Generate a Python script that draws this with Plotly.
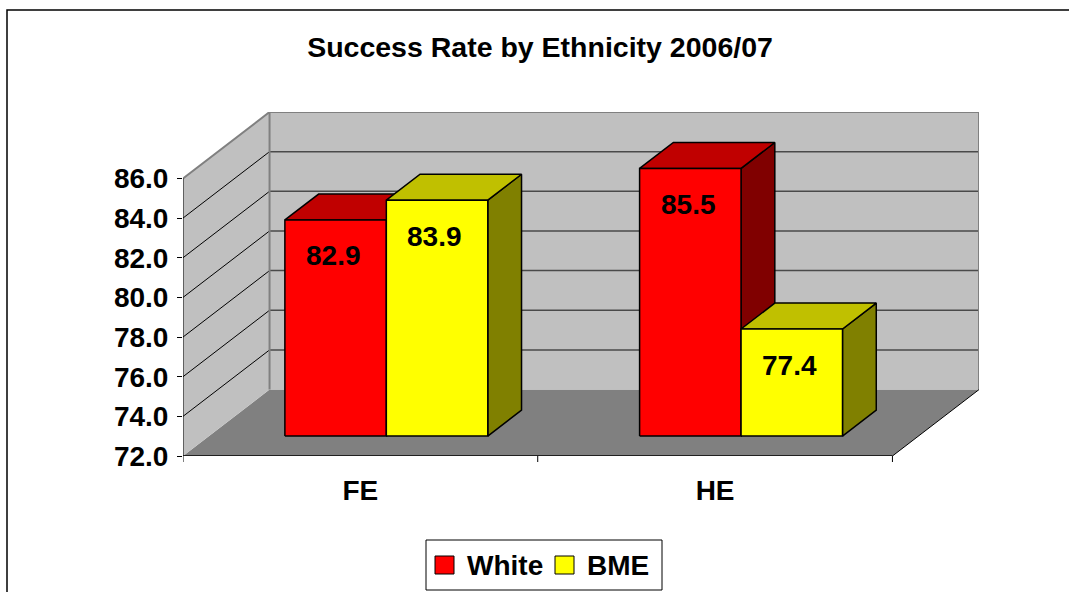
import plotly.graph_objects as go

# ---- data -------------------------------------------------------------
categories = ["FE", "HE"]
series_names = ["White", "BME"]
white_values = [82.9, 85.5]
bme_values = [83.9, 77.4]
y_ticks = [72.0, 74.0, 76.0, 78.0, 80.0, 82.0, 84.0, 86.0]

# ---- styling / 3-D projection constants --------------------------------
FONT = "Liberation Sans, Arial, sans-serif"
FACE = {
    "White": {"front": "#FF0000", "top": "#C00000", "side": "#800000"},
    "BME": {"front": "#FFFF00", "top": "#C0C000", "side": "#808000"},
}
W, H = 1069, 592
L_M, R_M, T_M, B_M = 183, 90, 112, 136

Y_MIN, Y_MAX = y_ticks[0], y_ticks[-1]
DEPTH_X = 0.244       # horizontal shift of the back wall, in category units
DEPTH_Y = 3.35        # vertical shift of the back wall, in value units
BAR_F, BAR_B = 0.30, 0.69   # front / back depth of the bars (fraction of floor depth)
BAR_W = 0.286               # width of one bar, in category units
OFFSETS = [-BAR_W / 2, BAR_W / 2]

n_cat = len(categories)
x_left, x_right = -0.5, n_cat - 0.5
x_range = [x_left, x_right + DEPTH_X]
y_range = [Y_MIN, Y_MAX + DEPTH_Y]

plot_w = W - L_M - R_M
plot_h = H - T_M - B_M


def px_to_paper_x(px):
    return (px - L_M) / plot_w


def px_to_paper_y(py):
    return (H - B_M - py) / plot_h


fig = go.Figure()
shapes = []


def path(points):
    return "M " + " L ".join(f"{x},{y}" for x, y in points) + " Z"


# ---- walls & floor (drawn under the bars) ------------------------------
# floor
shapes.append(dict(type="path", xref="x", yref="y", layer="below",
                   path=path([(x_left, Y_MIN), (x_right, Y_MIN),
                              (x_right + DEPTH_X, Y_MIN + DEPTH_Y),
                              (x_left + DEPTH_X, Y_MIN + DEPTH_Y)]),
                   fillcolor="#808080", line=dict(width=0)))
# left side wall
shapes.append(dict(type="path", xref="x", yref="y", layer="below",
                   path=path([(x_left, Y_MIN), (x_left, Y_MAX),
                              (x_left + DEPTH_X, Y_MAX + DEPTH_Y),
                              (x_left + DEPTH_X, Y_MIN + DEPTH_Y)]),
                   fillcolor="#C0C0C0", line=dict(width=0)))
# back wall
shapes.append(dict(type="rect", xref="x", yref="y", layer="below",
                   x0=x_left + DEPTH_X, x1=x_right + DEPTH_X,
                   y0=Y_MIN + DEPTH_Y, y1=Y_MAX + DEPTH_Y,
                   fillcolor="#C0C0C0", line=dict(width=0)))
# gridlines: back wall horizontals and side-wall diagonals
for v in y_ticks[1:-1]:
    shapes.append(dict(type="line", xref="x", yref="y", layer="below",
                       x0=x_left + DEPTH_X, x1=x_right + DEPTH_X,
                       y0=v + DEPTH_Y, y1=v + DEPTH_Y,
                       line=dict(color="#4A4A4A", width=1.5)))
    shapes.append(dict(type="line", xref="x", yref="y", layer="below",
                       x0=x_left, x1=x_left + DEPTH_X,
                       y0=v, y1=v + DEPTH_Y,
                       line=dict(color="#000000", width=1)))
# wall outlines
shapes.append(dict(type="path", xref="x", yref="y", layer="below",
                   path="M {},{} L {},{} L {},{} L {},{}".format(
                       x_left, Y_MAX,
                       x_left + DEPTH_X, Y_MAX + DEPTH_Y,
                       x_right + DEPTH_X, Y_MAX + DEPTH_Y,
                       x_right + DEPTH_X, Y_MIN + DEPTH_Y),
                   line=dict(color="#808080", width=2)))
shapes.append(dict(type="line", xref="x", yref="y", layer="below",
                   x0=x_left + DEPTH_X, x1=x_left + DEPTH_X,
                   y0=Y_MIN + DEPTH_Y, y1=Y_MAX + DEPTH_Y,
                   line=dict(color="#808080", width=2)))
# floor right edge
shapes.append(dict(type="line", xref="x", yref="y", layer="below",
                   x0=x_right, x1=x_right + DEPTH_X,
                   y0=Y_MIN, y1=Y_MIN + DEPTH_Y,
                   line=dict(color="#000000", width=1)))

# ---- bars as projected boxes ------------------------------------------
fx, fy = DEPTH_X * BAR_F, DEPTH_Y * BAR_F
bx, by = DEPTH_X * BAR_B, DEPTH_Y * BAR_B
annotations = []
all_values = {"White": white_values, "BME": bme_values}

for ci, cat in enumerate(categories):
    for si, name in enumerate(series_names):
        v = all_values[name][ci]
        x0 = ci + OFFSETS[si] - BAR_W / 2
        x1 = ci + OFFSETS[si] + BAR_W / 2
        faces = [
            ("side", [(x1 + fx, Y_MIN + fy), (x1 + bx, Y_MIN + by),
                      (x1 + bx, v + by), (x1 + fx, v + fy)]),
            ("top", [(x0 + fx, v + fy), (x1 + fx, v + fy),
                     (x1 + bx, v + by), (x0 + bx, v + by)]),
            ("front", [(x0 + fx, Y_MIN + fy), (x1 + fx, Y_MIN + fy),
                       (x1 + fx, v + fy), (x0 + fx, v + fy)]),
        ]
        for face, pts in faces:
            xs = [p[0] for p in pts] + [pts[0][0]]
            ys = [p[1] for p in pts] + [pts[0][1]]
            fig.add_trace(go.Scatter(
                x=xs, y=ys, mode="lines", fill="toself",
                fillcolor=FACE[name][face],
                line=dict(color="#000000", width=1.5),
                name=name, showlegend=False, hoverinfo="skip"))
        annotations.append(dict(
            x=(x0 + x1) / 2 + fx - 0.006, y=v + fy, xref="x", yref="y",
            text=f"{v:.1f}", showarrow=False, yanchor="middle",
            yshift=-36, font=dict(family=FONT, size=28, color="#000000",
                                  weight="bold")))

# ---- front axes lines and x tick marks --------------------------------
shapes.append(dict(type="line", xref="x", yref="y",
                   x0=x_left, x1=x_left, y0=Y_MIN, y1=Y_MAX,
                   line=dict(color="#000000", width=1)))
shapes.append(dict(type="line", xref="x", yref="y",
                   x0=x_left, x1=x_right, y0=Y_MIN, y1=Y_MIN,
                   line=dict(color="#000000", width=1.5)))
for b in [x_left + k for k in range(n_cat + 1)]:
    shapes.append(dict(type="line", xref="x", yref="paper",
                       x0=b, x1=b, y0=0, y1=-6 / plot_h,
                       line=dict(color="#000000", width=1)))

# ---- outer chart border ----------------------------------------------
shapes.append(dict(type="rect", xref="paper", yref="paper",
                   x0=px_to_paper_x(7), x1=px_to_paper_x(W + 10),
                   y0=px_to_paper_y(H + 10), y1=px_to_paper_y(10),
                   line=dict(color="#000000", width=1.5),
                   fillcolor="rgba(0,0,0,0)"))

# ---- legend box -------------------------------------------------------
shapes.append(dict(type="rect", xref="paper", yref="paper",
                   x0=px_to_paper_x(426), x1=px_to_paper_x(662),
                   y0=px_to_paper_y(590), y1=px_to_paper_y(540),
                   line=dict(color="#000000", width=1),
                   fillcolor="#FFFFFF"))
legend_items = [(series_names[0], 435, 465), (series_names[1], 555, 585)]
for name, sq_x, tx in legend_items:
    shapes.append(dict(type="rect", xref="paper", yref="paper",
                       x0=px_to_paper_x(sq_x), x1=px_to_paper_x(sq_x + 19),
                       y0=px_to_paper_y(574), y1=px_to_paper_y(556),
                       line=dict(color="#000000", width=1),
                       fillcolor=FACE[name]["front"]))
    annotations.append(dict(
        x=px_to_paper_x(tx), y=px_to_paper_y(565), xref="paper", yref="paper",
        xanchor="left", yanchor="middle", text=name, showarrow=False,
        font=dict(family=FONT, size=28, color="#000000", weight="bold")))

fig.update_layout(
    width=W, height=H,
    margin=dict(l=L_M, r=R_M, t=T_M, b=B_M),
    paper_bgcolor="#FFFFFF", plot_bgcolor="rgba(0,0,0,0)",
    title=dict(text="Success Rate by Ethnicity 2006/07",
               x=540 / W, xanchor="center", xref="container",
               y=1 - 47 / H, yanchor="middle",
               font=dict(family=FONT, size=28.5, color="#000000", weight="bold")),
    showlegend=False,
    shapes=shapes,
    annotations=annotations,
    xaxis=dict(range=x_range, tickvals=list(range(n_cat)), ticktext=categories,
               ticks="", showgrid=False, zeroline=False, showline=False,
               ticklabelstandoff=15,
               tickfont=dict(family=FONT, size=28, color="#000000", weight="bold"),
               fixedrange=True),
    yaxis=dict(range=y_range, tickvals=y_ticks, tickformat=".1f",
               ticks="outside", ticklen=5, tickcolor="#000000", tickwidth=1,
               showgrid=False, zeroline=False, showline=False,
               ticklabelstandoff=3,
               tickfont=dict(family=FONT, size=28, color="#000000", weight="bold"),
               fixedrange=True),
)

fig.write_html("out.html")
